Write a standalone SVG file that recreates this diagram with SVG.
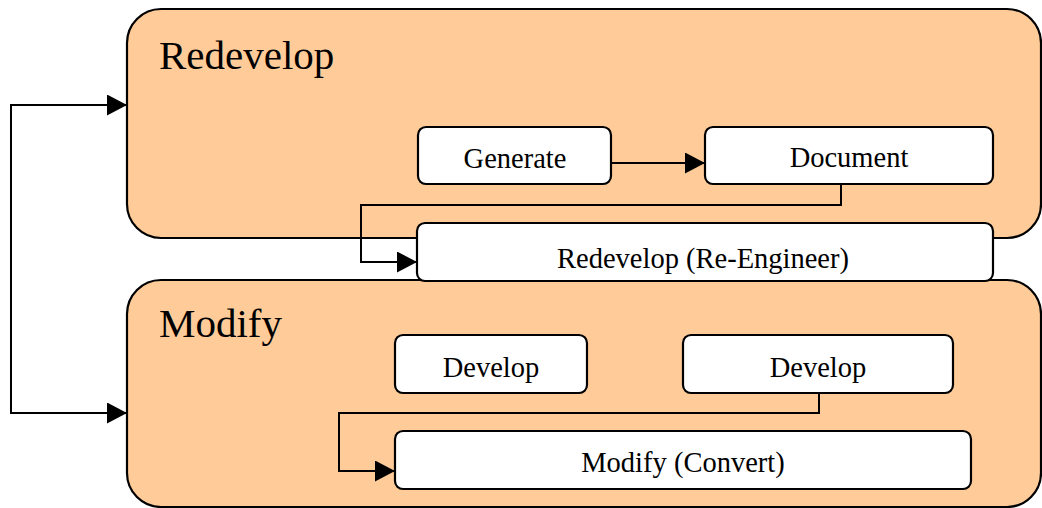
<svg xmlns="http://www.w3.org/2000/svg" width="1042" height="508" viewBox="0 0 1042 508">
<style>
.group{fill:#FFCC99;stroke:#000;stroke-width:2.2}
.node{fill:#fff;stroke:#000;stroke-width:2.2}
.title{font-family:"Liberation Serif",serif;font-size:41px;fill:#000}
.lbl{font-family:"Liberation Serif",serif;font-size:28.5px;fill:#000;text-anchor:middle}
.conn{fill:none;stroke:#000;stroke-width:2}
</style>
<defs>
<marker id="arr" markerUnits="userSpaceOnUse" markerWidth="22" markerHeight="22" refX="20" refY="10.5" orient="auto-start-reverse">
<path d="M0,0 L20,10.5 L0,21 Z" fill="#000"/>
</marker>
</defs>
<rect width="1042" height="508" fill="#fff"/>
<g id="redevelop-group">
<rect class="group" x="127" y="9" width="914" height="229" rx="34" ry="34"/>
<text class="title" x="159" y="69">Redevelop</text>
</g>
<g id="modify-group">
<rect class="group" x="127" y="280" width="914" height="227" rx="34" ry="34"/>
<text class="title" x="159" y="337">Modify</text>
</g>
<g id="generate">
<rect class="node" x="418" y="127" width="193" height="57" rx="8"/>
<text class="lbl" x="515" y="168">Generate</text>
</g>
<g id="document">
<rect class="node" x="705" y="127" width="288" height="57" rx="8"/>
<text class="lbl" x="849" y="167">Document</text>
</g>
<g id="reengineer">
<rect class="node" x="417" y="223" width="576" height="58" rx="8"/>
<text class="lbl" x="703" y="268">Redevelop (Re-Engineer)</text>
</g>
<g id="develop1">
<rect class="node" x="395" y="335" width="192" height="58" rx="8"/>
<text class="lbl" x="491" y="377">Develop</text>
</g>
<g id="develop2">
<rect class="node" x="683" y="335" width="270" height="58" rx="8"/>
<text class="lbl" x="818" y="377">Develop</text>
</g>
<g id="convert">
<rect class="node" x="395" y="431" width="576" height="58" rx="8"/>
<text class="lbl" x="683" y="472">Modify (Convert)</text>
</g>
<g id="connectors">
<path class="conn" d="M611,163 H705" marker-end="url(#arr)"/>
<path class="conn" d="M841,184 V205 H361 V262 H417" marker-end="url(#arr)"/>
<path class="conn" d="M819,393 V413 H339 V471 H395" marker-end="url(#arr)"/>
<path class="conn" d="M127,105 H11 V413 H127" marker-start="url(#arr)" marker-end="url(#arr)"/>
</g>
</svg>
